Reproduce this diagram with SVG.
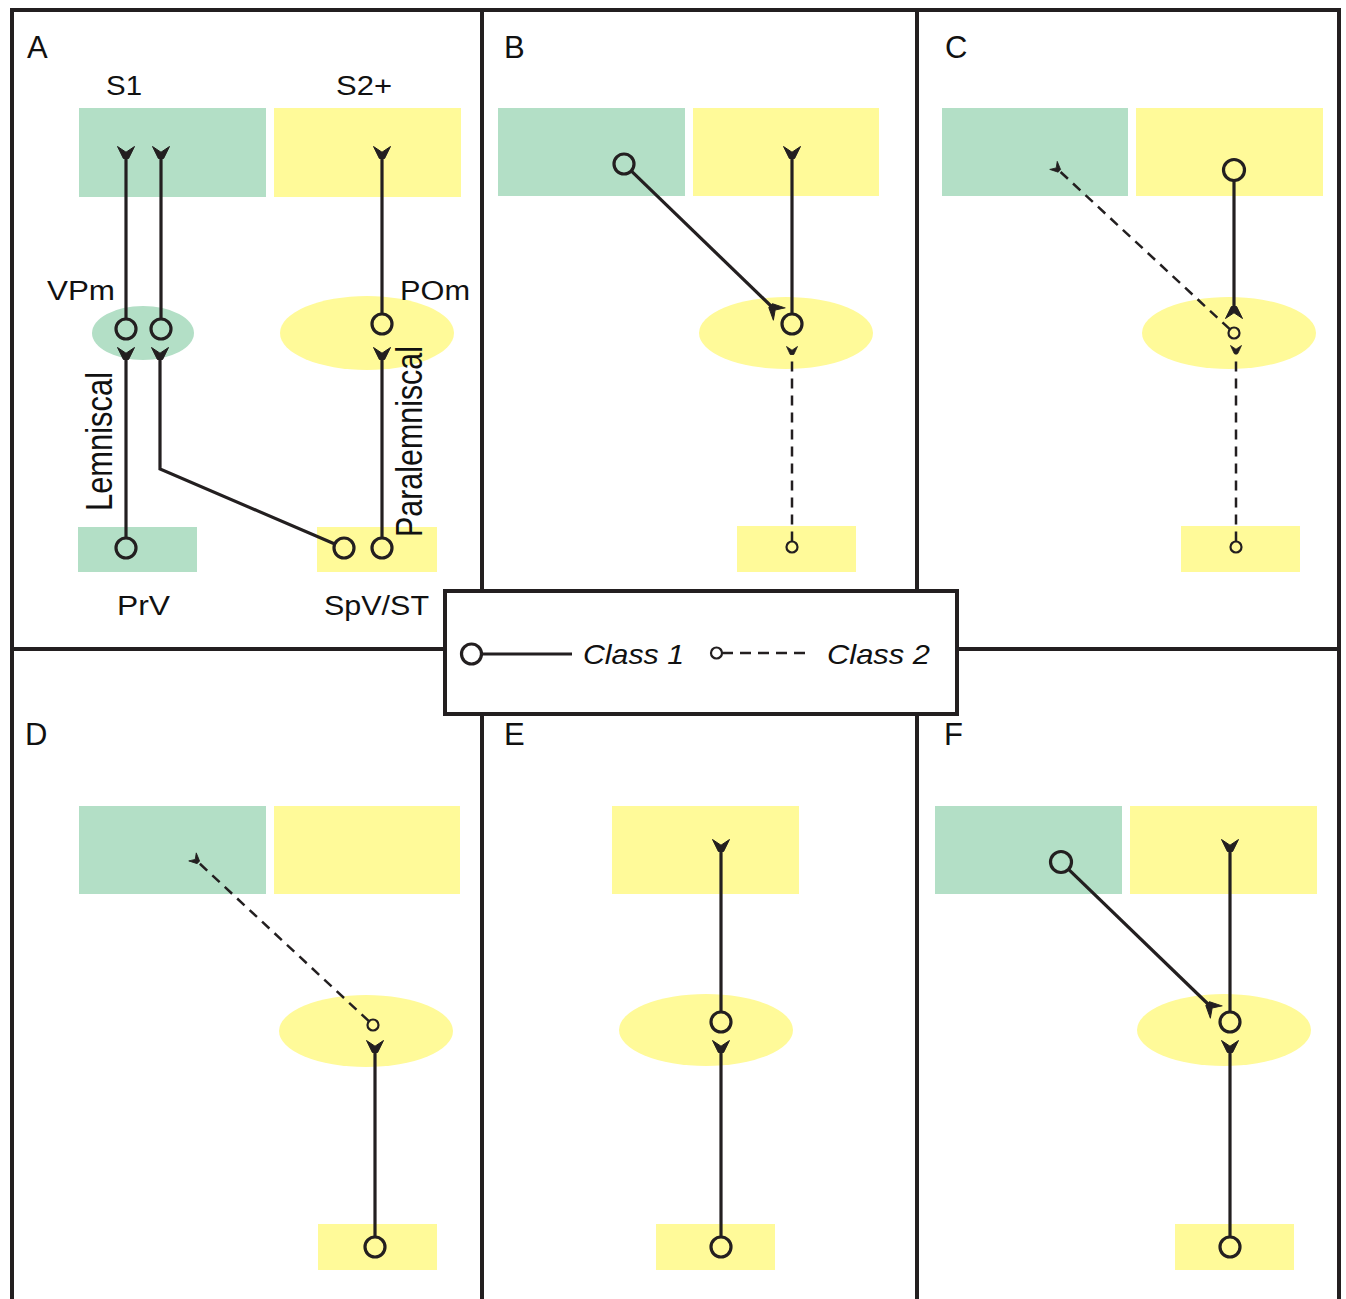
<svg xmlns="http://www.w3.org/2000/svg" width="1346" height="1299" viewBox="0 0 1346 1299">
<style>
.g{fill:#b3dfc6}
.y{fill:#fffa99}
.frame{fill:none;stroke:#231f20;stroke-width:4}
.ln{fill:none;stroke:#231f20;stroke-width:3.2}
.dl{fill:none;stroke:#231f20;stroke-width:2.5;stroke-dasharray:10 7}
.sb{fill:none;stroke:#231f20;stroke-width:3.2}
.ss{fill:none;stroke:#231f20;stroke-width:2.2}
text{font-family:"Liberation Sans",Arial,sans-serif;fill:#111}
.pl{font-size:31px}
.lb{font-size:27px}
.rl{font-size:30px}
.lg{font-size:28px;font-style:italic}
.sol{marker-end:url(#chev)}
.dsh{marker-end:url(#chevs)}
</style>
<defs>
<marker id="chev" markerUnits="userSpaceOnUse" markerWidth="20" markerHeight="20" refX="0" refY="0" orient="auto" overflow="visible">
<path d="M-0.5,-2.6 L11.5,-8.5 L5.8,0 L11.5,8.5 L-0.5,2.6 Z" fill="#231f20" stroke="#231f20" stroke-width="1" stroke-linejoin="round"/>
</marker>
<marker id="chevs" markerUnits="userSpaceOnUse" markerWidth="12" markerHeight="12" refX="0" refY="0" orient="auto" overflow="visible">
<path d="M-0.5,-1.8 L7.5,-5.5 L3.8,0 L7.5,5.5 L-0.5,1.8 Z" fill="#231f20" stroke="#231f20" stroke-width="0.8" stroke-linejoin="round"/>
</marker>
</defs>
<rect width="1346" height="1299" fill="#fff"/>

<g id="frame">
<rect class="frame" x="12" y="10" width="1327" height="1300"/>
<line class="frame" x1="482" y1="10" x2="482" y2="591"/>
<line class="frame" x1="482" y1="714" x2="482" y2="1299"/>
<line class="frame" x1="917" y1="10" x2="917" y2="591"/>
<line class="frame" x1="917" y1="714" x2="917" y2="1299"/>
<line class="frame" x1="12" y1="649" x2="445" y2="649"/>
<line class="frame" x1="957" y1="649" x2="1339" y2="649"/>
</g>

<g id="panel-labels">
<text class="pl" x="27" y="58">A</text>
<text class="pl" x="504" y="58">B</text>
<text class="pl" x="945" y="58">C</text>
<text class="pl" x="25" y="745">D</text>
<text class="pl" x="504" y="745">E</text>
<text class="pl" x="944" y="745">F</text>
</g>

<!-- Panel A nodes -->
<g id="A-S1"><rect class="g" x="79" y="108" width="187" height="89"/><text class="lb" x="106" y="95" textLength="36" lengthAdjust="spacingAndGlyphs">S1</text></g>
<g id="A-S2"><rect class="y" x="274" y="108" width="187" height="89"/><text class="lb" x="336" y="95" textLength="56" lengthAdjust="spacingAndGlyphs">S2+</text></g>
<g id="A-VPm"><ellipse class="g" cx="143" cy="333" rx="51" ry="27"/><text class="lb" x="47" y="300" textLength="68" lengthAdjust="spacingAndGlyphs">VPm</text></g>
<g id="A-POm"><ellipse class="y" cx="367" cy="333" rx="87" ry="37"/><text class="lb" x="400" y="300" textLength="70" lengthAdjust="spacingAndGlyphs">POm</text></g>
<g id="A-PrV"><rect class="g" x="78" y="527" width="119" height="45"/><text class="lb" x="117" y="615" textLength="53" lengthAdjust="spacingAndGlyphs">PrV</text></g>
<g id="A-SpV"><rect class="y" x="317" y="527" width="120" height="45"/><text class="lb" x="324" y="615" textLength="105" lengthAdjust="spacingAndGlyphs">SpV/ST</text></g>
<g id="A-pathway-labels">
<text class="rl" transform="translate(112,511) scale(1.2,1) rotate(-90)" textLength="139" lengthAdjust="spacingAndGlyphs">Lemniscal</text>
<text class="rl" transform="translate(422,537) scale(1.2,1) rotate(-90)" textLength="191" lengthAdjust="spacingAndGlyphs">Paralemniscal</text>
</g>

<!-- Panel B nodes -->
<g id="B-S1"><rect class="g" x="498" y="108" width="187" height="88"/></g>
<g id="B-S2"><rect class="y" x="693" y="108" width="186" height="88"/></g>
<g id="B-POm"><ellipse class="y" cx="786" cy="333" rx="87" ry="36"/></g>
<g id="B-SpV"><rect class="y" x="737" y="526" width="119" height="46"/></g>

<!-- Panel C nodes -->
<g id="C-S1"><rect class="g" x="942" y="108" width="186" height="88"/></g>
<g id="C-S2"><rect class="y" x="1136" y="108" width="187" height="88"/></g>
<g id="C-POm"><ellipse class="y" cx="1229" cy="333" rx="87" ry="36"/></g>
<g id="C-SpV"><rect class="y" x="1181" y="526" width="119" height="46"/></g>

<!-- Panel D nodes -->
<g id="D-S1"><rect class="g" x="79" y="806" width="187" height="88"/></g>
<g id="D-S2"><rect class="y" x="274" y="806" width="186" height="88"/></g>
<g id="D-POm"><ellipse class="y" cx="366" cy="1031" rx="87" ry="36"/></g>
<g id="D-SpV"><rect class="y" x="318" y="1224" width="119" height="46"/></g>

<!-- Panel E nodes -->
<g id="E-S2"><rect class="y" x="612" y="806" width="187" height="88"/></g>
<g id="E-POm"><ellipse class="y" cx="706" cy="1030" rx="87" ry="36"/></g>
<g id="E-SpV"><rect class="y" x="656" y="1224" width="119" height="46"/></g>

<!-- Panel F nodes -->
<g id="F-S1"><rect class="g" x="935" y="806" width="187" height="88"/></g>
<g id="F-S2"><rect class="y" x="1130" y="806" width="187" height="88"/></g>
<g id="F-POm"><ellipse class="y" cx="1224" cy="1030" rx="87" ry="36"/></g>
<g id="F-SpV"><rect class="y" x="1175" y="1224" width="119" height="46"/></g>

<g id="connectors">
<!-- A -->
<circle class="sb" cx="126" cy="329" r="10"/><path class="ln sol" d="M126,319 V158"/>
<circle class="sb" cx="161" cy="329" r="10"/><path class="ln sol" d="M161,319 V158"/>
<circle class="sb" cx="382" cy="324" r="10"/><path class="ln sol" d="M382,314 V158"/>
<circle class="sb" cx="126" cy="548" r="10"/><path class="ln sol" d="M126,538 V359"/>
<circle class="sb" cx="344" cy="548" r="10"/><path class="ln sol" d="M334.8,544 L160,469 V359"/>
<circle class="sb" cx="382" cy="548" r="10"/><path class="ln sol" d="M382,538 V359"/>
<!-- B -->
<circle class="sb" cx="624" cy="164" r="10"/><path class="ln sol" d="M631.2,170.9 L771,306"/>
<circle class="sb" cx="792" cy="324" r="10"/><path class="ln sol" d="M792,314 V158"/>
<circle class="ss" cx="792" cy="547" r="5.5"/><path class="dl dsh" d="M792,541.5 V354"/>
<!-- C -->
<circle class="sb" cx="1234" cy="170" r="10.5"/><path class="ln sol" d="M1234,180.5 V307"/>
<circle class="ss" cx="1234" cy="333" r="5.5"/><path class="dl dsh" d="M1229.8,329.2 L1059,170.5"/>
<circle class="ss" cx="1236" cy="547" r="5.5"/><path class="dl dsh" d="M1236,541.5 V353"/>
<!-- D -->
<circle class="ss" cx="373" cy="1025" r="5.5"/><path class="dl dsh" d="M368.9,1021.2 L198,862"/>
<circle class="sb" cx="375" cy="1247" r="10"/><path class="ln sol" d="M375,1237 V1052"/>
<!-- E -->
<circle class="sb" cx="721" cy="1022" r="10"/><path class="ln sol" d="M721,1012 V851"/>
<circle class="sb" cx="721" cy="1247" r="10"/><path class="ln sol" d="M721,1237 V1052"/>
<!-- F -->
<circle class="sb" cx="1061" cy="862" r="10.5"/><path class="ln sol" d="M1068.6,869.3 L1208,1004"/>
<circle class="sb" cx="1230" cy="1022" r="10"/><path class="ln sol" d="M1230,1012 V851"/>
<circle class="sb" cx="1230" cy="1247" r="10"/><path class="ln sol" d="M1230,1237 V1052"/>
</g>

<g id="legend">
<rect x="445" y="591" width="512" height="123" fill="#fff" stroke="#231f20" stroke-width="4"/>
<circle class="sb" cx="471.5" cy="654" r="10"/>
<line class="ln" x1="481.5" y1="654" x2="572" y2="654"/>
<text class="lg" x="583" y="664" textLength="101" lengthAdjust="spacingAndGlyphs">Class 1</text>
<circle class="ss" cx="716.5" cy="653" r="5.5"/>
<line class="dl" x1="722" y1="653" x2="812" y2="653" style="stroke-dasharray:11 7"/>
<text class="lg" x="827" y="664" textLength="103" lengthAdjust="spacingAndGlyphs">Class 2</text>
</g>
</svg>
